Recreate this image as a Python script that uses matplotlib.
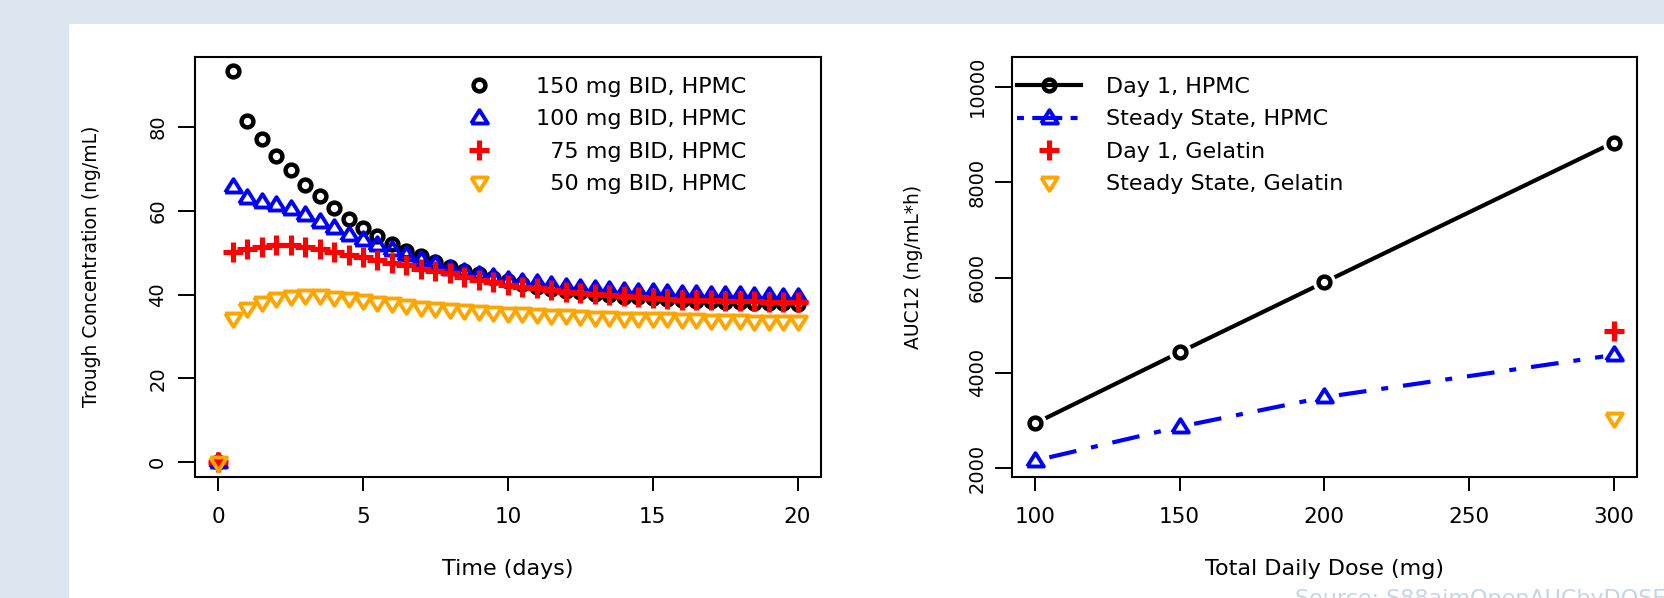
import matplotlib
matplotlib.use("Agg")
import matplotlib.pyplot as plt
from matplotlib.patches import Rectangle
from matplotlib.lines import Line2D

plt.rcParams['font.family'] = ['DejaVu Sans']
plt.rcParams['lines.scale_dashes'] = False

# ---------------- data ----------------
time_days = [0, 0.5, 1, 1.5, 2, 2.5, 3, 3.5, 4, 4.5, 5, 5.5, 6, 6.5, 7, 7.5, 8, 8.5, 9, 9.5,
             10, 10.5, 11, 11.5, 12, 12.5, 13, 13.5, 14, 14.5, 15, 15.5, 16, 16.5, 17, 17.5,
             18, 18.5, 19, 19.5, 20]
conc_150 = [0, 93.3, 81.4, 77.1, 73.1, 69.7, 66.1, 63.6, 60.7, 57.9, 55.8, 53.9, 52.0, 50.4,
            49.2, 47.8, 46.6, 45.7, 44.8, 44.0, 43.2, 42.5, 41.9, 41.4, 40.9, 40.5, 40.1, 39.8,
            39.5, 39.3, 39.1, 38.9, 38.7, 38.5, 38.4, 38.3, 38.2, 38.1, 38.0, 37.9, 37.8]
conc_100 = [0, 65.7, 62.9, 62.1, 61.3, 60.5, 58.9, 57.4, 55.8, 54.2, 53.0, 51.8, 50.6, 49.4,
            48.2, 47.3, 46.2, 45.3, 44.6, 44.1, 43.5, 43.1, 42.7, 42.3, 41.9, 41.6, 41.4, 41.1,
            40.9, 40.7, 40.5, 40.3, 40.2, 40.1, 40.0, 39.9, 39.8, 39.7, 39.6, 39.5, 39.4]
conc_75 = [0, 50.1, 50.8, 51.4, 51.8, 51.8, 51.4, 50.8, 50.1, 49.4, 48.9, 48.2, 47.6, 47.0,
           46.2, 45.7, 45.1, 44.2, 43.5, 42.9, 42.3, 41.9, 41.5, 41.1, 40.7, 40.3, 40.1, 39.8,
           39.6, 39.4, 39.1, 39.0, 38.8, 38.7, 38.6, 38.5, 38.4, 38.4, 38.3, 38.2, 38.2]
conc_50 = [0, 34.5, 36.7, 38.3, 39.2, 39.6, 39.9, 39.9, 39.5, 39.1, 38.7, 38.3, 37.9, 37.5,
           37.1, 36.9, 36.6, 36.3, 36.1, 35.8, 35.7, 35.5, 35.4, 35.2, 35.1, 34.9, 34.7, 34.7,
           34.5, 34.4, 34.3, 34.3, 34.2, 34.1, 34.0, 33.9, 33.9, 33.8, 33.7, 33.7, 33.6]
left_labels = ['150 mg BID, HPMC', '100 mg BID, HPMC', '  75 mg BID, HPMC', '  50 mg BID, HPMC']

dose_hpmc = [100, 150, 200, 300]
auc_day1_hpmc = [2940, 4430, 5900, 8830]
auc_ss_hpmc = [2160, 2870, 3490, 4375]
dose_gel = [300]
auc_day1_gel = [4885]
auc_ss_gel = [3050]
right_labels = ['Day 1, HPMC', 'Steady State, HPMC', 'Day 1, Gelatin', 'Steady State, Gelatin']

left_xticks = [0, 5, 10, 15, 20]
left_yticks = [0, 20, 40, 60, 80]
right_xticks = [100, 150, 200, 250, 300]
right_yticks = [2000, 4000, 6000, 8000, 10000]

# ---------------- style ----------------
W, H = 1664, 598
BLUE, RED, ORANGE = '#0000ff', '#ff0000', '#ffa500'
TRI_UP = [(-1, -0.6), (1, -0.6), (0, 1.0), (-1, -0.6)]
TRI_DN = [(-1, 0.6), (1, 0.6), (0, -1.0), (-1, 0.6)]
circ = dict(marker='o', ms=8.5, mfc='none', mew=3.2)
triu = dict(marker=TRI_UP, ms=12, mfc='none', mew=2.8)
trid = dict(marker=TRI_DN, ms=12, mfc='none', mew=2.8)
plus = dict(marker='+', ms=14, mew=3.7)

fig = plt.figure(figsize=(W / 100, H / 100), dpi=100, facecolor='#dce6f1')
fig.patches.append(Rectangle((69 / W, 0), 1 - 69 / W, (H - 24) / H, transform=fig.transFigure,
                             facecolor='white', edgecolor='none', zorder=-10))


def px_axes(l, t, r, b):
    return fig.add_axes([l / W, (H - b) / H, (r - l) / W, (b - t) / H])


ax1 = px_axes(195, 56.7, 820.7, 476.7)
ax2 = px_axes(1011.7, 56.7, 1636.7, 476.7)


def style_axes(ax, ypad):
    for s in ax.spines.values():
        s.set_linewidth(1.5)
    ax.tick_params(axis='x', direction='out', length=10, width=1.4, labelsize=15.5, pad=12)
    ax.tick_params(axis='y', direction='out', length=12, width=1.4, labelsize=14, pad=ypad,
                   labelrotation=90)
    for lab in ax.get_yticklabels():
        lab.set_verticalalignment('center')


LEG = dict(loc='upper left', frameon=False, borderpad=0, borderaxespad=0, handlelength=2.9,
           handletextpad=1.1, labelspacing=0.56, numpoints=1, fontsize=16)

# ---------------- left panel ----------------
ax1.plot(time_days, conc_150, ls='none', color='black', mec='black', label=left_labels[0], **circ)
ax1.plot(time_days, conc_100, ls='none', color=BLUE, mec=BLUE, label=left_labels[1], **triu)
ax1.plot(time_days, conc_75, ls='none', color=RED, mec=RED, label=left_labels[2], **plus)
ax1.plot(time_days, conc_50, ls='none', color=ORANGE, mec=ORANGE, label=left_labels[3], **trid)
ax1.set_xlim(-0.8, 20.8)
ax1.set_ylim(-3.43, 96.7)
ax1.set_xticks(left_xticks)
ax1.set_yticks(left_yticks)
style_axes(ax1, 8)
ax1.set_xlabel('Time (days)', fontsize=16)
ax1.set_ylabel('Trough Concentration (ng/mL)', fontsize=13.5)
ax1.xaxis.set_label_coords(0.5, -0.196)
ax1.yaxis.set_label_coords(-0.150, 0.5)
ax1.legend(bbox_to_anchor=(0.403, 0.952), **LEG)

# ---------------- right panel ----------------
DASHDOT = (35.9, (20, 10.8, 5, 10.8))
ax2.plot(dose_hpmc, auc_day1_hpmc, color='black', lw=3, solid_capstyle='butt', zorder=2)
for i in range(len(dose_hpmc) - 1):
    ax2.plot(dose_hpmc[i:i + 2], auc_ss_hpmc[i:i + 2], color=BLUE, lw=3, ls=DASHDOT,
             dash_capstyle='butt', zorder=2)
for yv in (auc_day1_hpmc, auc_ss_hpmc):
    ax2.plot(dose_hpmc, yv, ls='none', marker='o', ms=16.5, mfc='white', mec='none', zorder=2.5)
ax2.plot(dose_hpmc, auc_day1_hpmc, ls='none', mec='black', zorder=3, **circ)
ax2.plot(dose_hpmc, auc_ss_hpmc, ls='none', mec=BLUE, zorder=3, **triu)
ax2.plot(dose_gel, auc_day1_gel, ls='none', color=RED, mec=RED, zorder=3, **plus)
ax2.plot(dose_gel, auc_ss_gel, ls='none', color=ORANGE, mec=ORANGE, zorder=3, **trid)
ax2.set_xlim(92, 308)
ax2.set_ylim(1824, 10629)
ax2.set_xticks(right_xticks)
ax2.set_yticks(right_yticks)
style_axes(ax2, 6)
ax2.set_xlabel('Total Daily Dose (mg)', fontsize=16)
ax2.set_ylabel('AUC12 (ng/mL*h)', fontsize=13.5)
ax2.xaxis.set_label_coords(0.5, -0.196)
ax2.yaxis.set_label_coords(-0.142, 0.5)

handles = [
    Line2D([], [], color='black', lw=3, mec='black', **circ),
    Line2D([], [], color=BLUE, lw=3, ls=(0, (5, 6, 21.6, 6)), mec=BLUE, **triu),
    Line2D([], [], ls='none', color=RED, mec=RED, **plus),
    Line2D([], [], ls='none', color=ORANGE, mec=ORANGE, **trid),
]
ax2.legend(handles, right_labels, bbox_to_anchor=(0.0085, 0.952), **LEG)

fig.text(1295 / W, 1 - 589 / H, 'Source: S88aimOpenAUCbyDOSE', fontsize=16,
         color='#c6d4e7', ha='left', va='top')

fig.savefig('out.png', dpi=100, facecolor=fig.get_facecolor())
